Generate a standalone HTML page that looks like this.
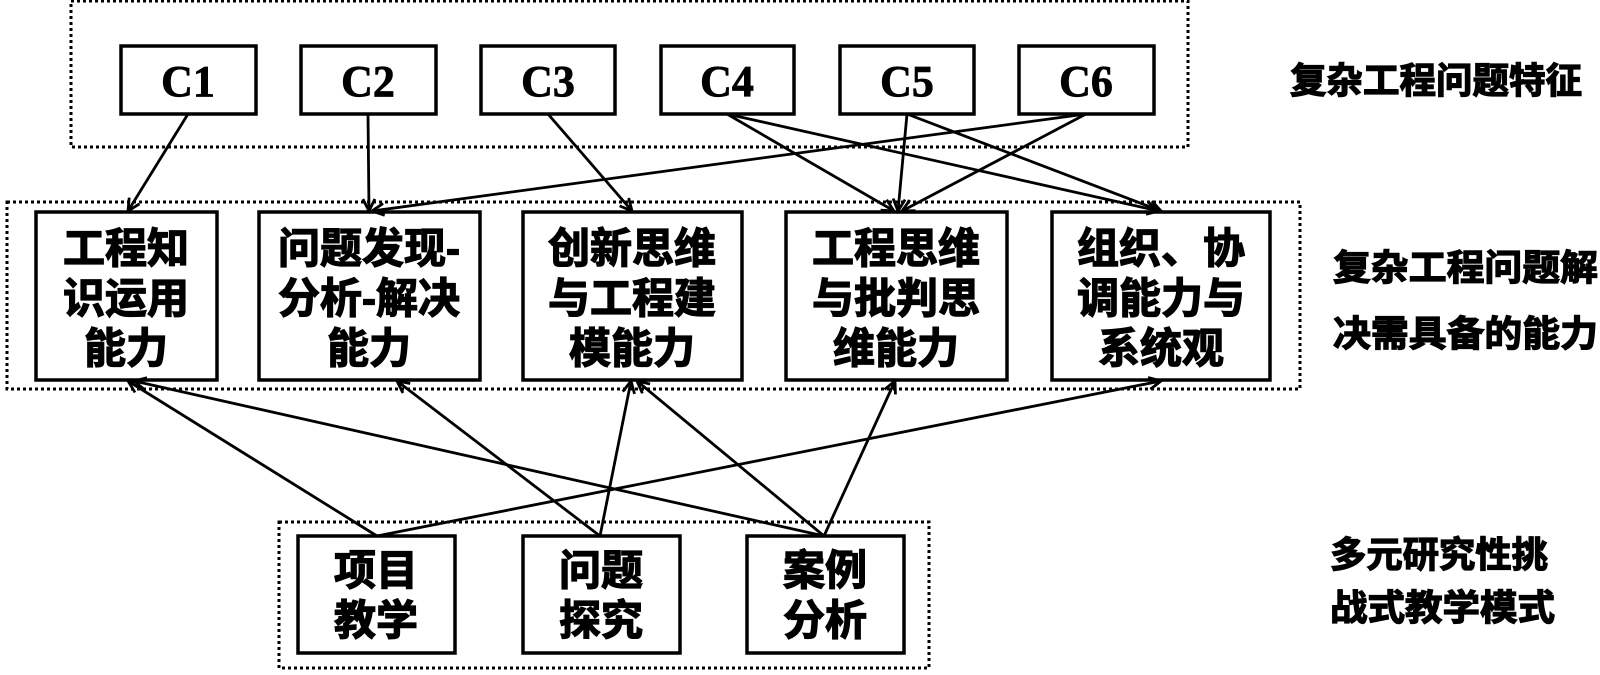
<!DOCTYPE html>
<html><head><meta charset="utf-8"><style>
html,body{margin:0;padding:0;background:#fff;}
svg{display:block;}
.cn{font-family:"Liberation Sans","Noto Sans CJK SC",sans-serif;font-weight:bold;fill:#000;stroke:#000;stroke-width:1.3;}
.c{font-family:"Liberation Serif",serif;font-weight:bold;font-size:44px;fill:#000;stroke:#000;stroke-width:0.8;}
</style></head><body>
<svg width="1600" height="675" viewBox="0 0 1600 675" xmlns="http://www.w3.org/2000/svg">
<defs>
<marker id="a" markerWidth="16" markerHeight="16" refX="13" refY="8" orient="auto" markerUnits="userSpaceOnUse">
<polyline points="1,2 13,8 1,14" fill="none" stroke="#000" stroke-width="2.8"/>
</marker>
</defs>
<g fill="none" stroke="#000" stroke-width="3" stroke-dasharray="3,3">
<rect x="71" y="1" width="1117" height="146"/>
<rect x="7" y="202" width="1293" height="187"/>
<rect x="279" y="522" width="650" height="146"/>
</g>
<g fill="#fff" stroke="#000" stroke-width="3.5">
<rect x="121" y="46" width="135" height="68"/>
<rect x="301" y="46" width="135" height="68"/>
<rect x="481" y="46" width="134" height="68"/>
<rect x="661" y="46" width="133" height="68"/>
<rect x="840" y="46" width="134" height="68"/>
<rect x="1019" y="46" width="135" height="68"/>
<rect x="36" y="212" width="181" height="168"/>
<rect x="259" y="212" width="221" height="168"/>
<rect x="523" y="212" width="219" height="168"/>
<rect x="786" y="212" width="221" height="168"/>
<rect x="1052" y="212" width="218" height="168"/>
<rect x="298" y="536" width="157" height="117"/>
<rect x="523" y="536" width="157" height="117"/>
<rect x="747" y="536" width="157" height="117"/>
</g>
<g stroke="#000" stroke-width="2.8" marker-end="url(#a)">
<line x1="188" y1="114" x2="128" y2="211"/>
<line x1="368" y1="114" x2="369" y2="211"/>
<line x1="548" y1="114" x2="632" y2="211"/>
<line x1="727" y1="114" x2="894" y2="211"/>
<line x1="727" y1="114" x2="1159" y2="211"/>
<line x1="907" y1="114" x2="898" y2="211"/>
<line x1="907" y1="114" x2="1161" y2="211"/>
<line x1="1086" y1="114" x2="372" y2="211"/>
<line x1="1086" y1="114" x2="902" y2="211"/>
<line x1="377" y1="536" x2="128" y2="381"/>
<line x1="377" y1="536" x2="1161" y2="381"/>
<line x1="600" y1="536" x2="397" y2="381"/>
<line x1="600" y1="536" x2="631" y2="381"/>
<line x1="824" y1="536" x2="134" y2="381"/>
<line x1="824" y1="536" x2="637" y2="381"/>
<line x1="824" y1="536" x2="895" y2="381"/>
</g>
<g class="c" text-anchor="middle">
<text x="188" y="96">C1</text>
<text x="368" y="96">C2</text>
<text x="548" y="96">C3</text>
<text x="727" y="96">C4</text>
<text x="907" y="96">C5</text>
<text x="1086" y="96">C6</text>
</g>
<g class="cn" font-size="42" text-anchor="middle">
<text x="126" y="263">工程知</text><text x="126" y="313">识运用</text><text x="126" y="363">能力</text>
<text x="369" y="263">问题发现-</text><text x="369" y="313">分析-解决</text><text x="369" y="363">能力</text>
<text x="632" y="263">创新思维</text><text x="632" y="313">与工程建</text><text x="632" y="363">模能力</text>
<text x="896" y="263">工程思维</text><text x="896" y="313">与批判思</text><text x="896" y="363">维能力</text>
<text x="1161" y="263">组织、协</text><text x="1161" y="313">调能力与</text><text x="1161" y="363">系统观</text>
<text x="376" y="585">项目</text><text x="376" y="635">教学</text>
<text x="601" y="585">问题</text><text x="601" y="635">探究</text>
<text x="825" y="585">案例</text><text x="825" y="635">分析</text>
</g>
<g class="cn" font-size="36">
<text x="1290" y="93" textLength="292" lengthAdjust="spacingAndGlyphs">复杂工程问题特征</text>
<text x="1333" y="280" textLength="265" lengthAdjust="spacingAndGlyphs">复杂工程问题解</text>
<text x="1333" y="346" textLength="265" lengthAdjust="spacingAndGlyphs">决需具备的能力</text>
<text x="1330" y="567" textLength="218" lengthAdjust="spacingAndGlyphs">多元研究性挑</text>
<text x="1330" y="620" textLength="225" lengthAdjust="spacingAndGlyphs">战式教学模式</text>
</g>
</svg>
</body></html>
